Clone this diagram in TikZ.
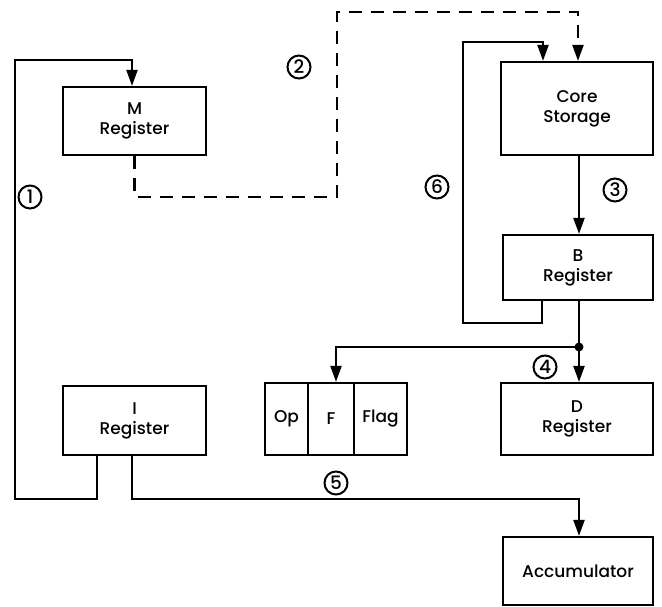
\documentclass[tikz,border=0pt]{standalone}
\usepackage{fontspec}
\setmainfont{Poppins Medium}
\usetikzlibrary{arrows.meta}

\begin{document}
\begin{tikzpicture}[x=1pt, y=-1pt, line width=2.2pt,
    >={Triangle[length=16pt,width=11pt]},
    reg/.style={draw, align=center, font=\fontsize{17}{20}\selectfont, inner sep=0pt},
    num/.style={draw, circle, line width=2pt, inner sep=0pt, minimum size=23pt, font=\fontsize{18.5}{18.5}\selectfont},
    bus/.style={dash pattern=on 13pt off 9pt}]
  \useasboundingbox (0,0) rectangle (662,607);
  % Registers and storage
  \node[reg, minimum width=143pt, minimum height=68pt] (mreg) at (134.5,121) {M\\Register};
  \node[reg, minimum width=152pt, minimum height=93pt] (core) at (577,108.5) {Core\\Storage};
  \node[reg, minimum width=150pt, minimum height=65pt] (breg) at (578,267.5) {B\\Register};
  \node[reg, minimum width=152pt, minimum height=72pt] (dreg) at (577,419) {D\\Register};
  \node[reg, minimum width=143pt, minimum height=69pt] (ireg) at (134.5,420.5) {I\\Register};
  \node[reg, minimum width=150pt, minimum height=68pt] (acc) at (578,571) {Accumulator};
  % Op / F / Flag fields
  \node[reg, minimum width=43pt, minimum height=72pt] (op) at (286.5,419) {Op};
  \node[reg, minimum width=46pt, minimum height=72pt] (f) at (331,419) {F};
  \node[reg, minimum width=53pt, minimum height=72pt] (flag) at (380.5,419) {Flag};
  % Corners
  \coordinate (c1a) at (15,499);
  \coordinate (c1b) at (15,60);
  \coordinate (c2a) at (337,197);
  \coordinate (c2b) at (337,12);
  \coordinate (c6a) at (463,323);
  \coordinate (c6b) at (463,42);
  \coordinate (c5) at (300,499);
  \coordinate (junc) at (579,347);
  % Step 1: I register to M register
  \draw[->] ([xshift=-37.5pt]ireg.south) |- (c1a) -- (c1b) -| ([xshift=-2.5pt]mreg.north);
  % Step 2: address to core storage
  \draw[->, bus] (mreg.south) |- (c2a) -- (c2b) -| ([xshift=1pt]core.north);
  % Step 3: core storage to B register
  \draw[->] ([xshift=2pt]core.south) -- ([xshift=1pt]breg.north);
  % Step 6: regenerate back into core
  \draw[->] ([xshift=-36pt]breg.south) |- (c6a) -- (c6b) -| ([xshift=-34pt]core.north);
  % Step 4: B register to D register and F field
  \draw ([xshift=1pt]breg.south) -- (junc);
  \fill (junc) circle (4.5pt);
  \draw[->] (junc) -- ([xshift=2pt]dreg.north);
  \draw[->] (junc) -| ([xshift=5pt]f.north);
  % Step 5: I register to accumulator
  \draw[->] ([xshift=-2.5pt]ireg.south) |- (c5) -| ([xshift=1pt]acc.north);
  % Step numbers
  \node[num] (n1) at (30,197) {1};
  \node[num] (n2) at (299,67) {2};
  \node[num] (n3) at (615,190) {3};
  \node[num] (n4) at (545,367) {4};
  \node[num] (n5) at (336,483) {5};
  \node[num] (n6) at (437,187) {6};
\end{tikzpicture}
\end{document}
